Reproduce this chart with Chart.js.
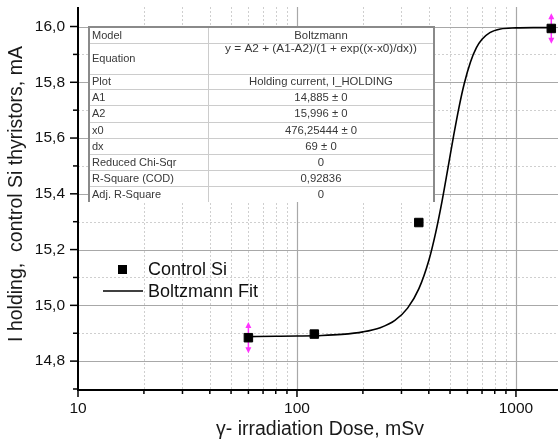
<!DOCTYPE html>
<html><head><meta charset="utf-8">
<script src="https://cdn.jsdelivr.net/npm/chart.js@4.4.0/dist/chart.umd.min.js"></script>
<style>html,body{margin:0;padding:0;background:#fff;overflow:hidden}canvas{display:block}</style>
</head><body>
<canvas id="c" width="558" height="447"></canvas>
<script>
// ---- data ----
const doseMSv   = [60, 120, 360, 1450];
const holdingMA = [14.884, 14.897, 15.297, 15.993];
const holdingErr = [0.056, 0, 0, 0.055];

const fitDose = [60, 80, 100, 130, 160, 200, 240, 280, 320, 360, 400, 430, 460, 490, 520, 550, 580, 620, 660, 700, 760, 850, 1000, 1200, 1450];
const fitMA   = [14.888, 14.889, 14.890, 14.892, 14.896, 14.905, 14.920, 14.946, 14.990, 15.059, 15.161, 15.261, 15.375, 15.496, 15.611, 15.712, 15.794, 15.873, 15.924, 15.954, 15.978, 15.991, 15.995, 15.996, 15.996];

const xTickValues = [10,20,30,40,50,60,70,80,90,100,200,300,400,500,600,700,800,900,1000];
const xTickLabels = ['10','100','1000'];
const yTickValues = [14.7,14.8,14.9,15.0,15.1,15.2,15.3,15.4,15.5,15.6,15.7,15.8,15.9,16.0];

const seriesLabels = ['Control Si', 'Boltzmann Fit'];
const xTitle = 'γ- irradiation Dose, mSv';
const yTitle = 'I holding,  control Si thyristors, mA';

const tableNames  = ['Model','Equation','Plot','A1','A2','x0','dx','Reduced Chi-Sqr','R-Square (COD)','Adj. R-Square'];
const tableValues = ['Boltzmann','y = A2 + (A1-A2)/(1 + exp((x-x0)/dx))','Holding current, I_HOLDING','14,885 ± 0','15,996 ± 0','476,25444 ± 0','69 ± 0','0','0,92836','0'];

const FONT = "'Liberation Sans', Arial, sans-serif";
const isMajorX = v => Math.abs(Math.log10(v) - Math.round(Math.log10(v))) < 1e-9;
const isMajorY = v => Math.round(v * 10) % 2 === 0;
const fmtY = v => (Math.round(v * 10) / 10).toFixed(1).replace('.', ',');

const decor = {
  id: 'decor',
  beforeDatasetsDraw(chart) {
    const {ctx, chartArea: a, scales: {x, y}} = chart;
    ctx.save();
    // grid
    xTickValues.forEach(v => {
      const px = Math.round(x.getPixelForValue(v)) + 0.5;
      if (px <= a.left + 1) return;
      ctx.beginPath();
      ctx.strokeStyle = isMajorX(v) ? '#a8a8a8' : '#cfcfcf';
      ctx.lineWidth = isMajorX(v) ? 1.2 : 1;
      ctx.setLineDash(isMajorX(v) ? [] : [2, 2]);
      ctx.moveTo(px, a.top); ctx.lineTo(px, a.bottom); ctx.stroke();
    });
    yTickValues.forEach(v => {
      const py = Math.round(y.getPixelForValue(v)) + 0.5;
      if (py >= a.bottom - 1) return;
      ctx.beginPath();
      ctx.strokeStyle = isMajorY(v) ? '#a8a8a8' : '#cfcfcf';
      ctx.lineWidth = isMajorY(v) ? 1.2 : 1;
      ctx.setLineDash(isMajorY(v) ? [] : [2, 2]);
      ctx.moveTo(a.left, py); ctx.lineTo(a.right, py); ctx.stroke();
    });
    ctx.setLineDash([]);

    // parameter table
    const tx0 = a.left + 11, tx1 = a.left + 130, tx2 = a.left + 356;
    const rowEdges = [27, 43, 74, 89, 105, 122, 138, 154, 170, 186, 202];
    ctx.fillStyle = '#fff';
    ctx.fillRect(tx0, rowEdges[0], tx2 - tx0, rowEdges[rowEdges.length - 1] - rowEdges[0]);
    ctx.strokeStyle = '#cccccc'; ctx.lineWidth = 1;
    for (let i = 1; i < rowEdges.length - 1; i++) {
      ctx.beginPath(); ctx.moveTo(tx0, rowEdges[i] + 0.5); ctx.lineTo(tx2, rowEdges[i] + 0.5); ctx.stroke();
    }
    ctx.beginPath(); ctx.moveTo(tx1 + 0.5, rowEdges[0]); ctx.lineTo(tx1 + 0.5, rowEdges[rowEdges.length - 1]); ctx.stroke();
    ctx.strokeStyle = '#8a8a8a'; ctx.lineWidth = 2;
    ctx.beginPath();
    ctx.moveTo(tx0, rowEdges[rowEdges.length - 1]); ctx.lineTo(tx0, rowEdges[0]);
    ctx.lineTo(tx2, rowEdges[0]); ctx.lineTo(tx2, rowEdges[rowEdges.length - 1]);
    ctx.stroke();
    ctx.fillStyle = '#383838'; ctx.textBaseline = 'middle';
    tableNames.forEach((n, i) => {
      const top = rowEdges[i], bot = rowEdges[i + 1];
      const mid = (top + bot) / 2 + 0.5;
      ctx.font = '11px ' + FONT;
      ctx.textAlign = 'left';
      ctx.fillText(n, tx0 + 3, mid);
      ctx.textAlign = 'center';
      ctx.font = (i === 1 ? '11.8px ' : '11.3px ') + FONT;
      ctx.fillText(tableValues[i], (tx1 + tx2) / 2, i === 1 ? top + 6 : mid);
    });

    // error bars
    ctx.strokeStyle = '#ff33ff'; ctx.fillStyle = '#ff33ff'; ctx.lineWidth = 1.5;
    doseMSv.forEach((d, i) => {
      if (!holdingErr[i]) return;
      const px = x.getPixelForValue(d);
      const pt = y.getPixelForValue(holdingMA[i] + holdingErr[i]);
      const pb = y.getPixelForValue(holdingMA[i] - holdingErr[i]);
      ctx.beginPath(); ctx.moveTo(px, pt + 3); ctx.lineTo(px, pb - 3); ctx.stroke();
      ctx.beginPath(); ctx.moveTo(px, pt); ctx.lineTo(px - 3, pt + 6); ctx.lineTo(px + 3, pt + 6); ctx.closePath(); ctx.fill();
      ctx.beginPath(); ctx.moveTo(px, pb); ctx.lineTo(px - 3, pb - 6); ctx.lineTo(px + 3, pb - 6); ctx.closePath(); ctx.fill();
    });
    ctx.restore();
  },
  afterDraw(chart) {
    const {ctx, chartArea: a, scales: {x, y}} = chart;
    ctx.save();
    // axes
    ctx.strokeStyle = '#000'; ctx.lineWidth = 2;
    ctx.beginPath(); ctx.moveTo(a.left, a.top); ctx.lineTo(a.left, a.bottom + 1); ctx.lineTo(a.right, a.bottom + 1); ctx.stroke();
    ctx.lineWidth = 1.5;
    ctx.fillStyle = '#111'; ctx.font = '15.5px ' + FONT;
    xTickValues.forEach(v => {
      const px = x.getPixelForValue(v);
      ctx.beginPath(); ctx.moveTo(px, a.bottom); ctx.lineTo(px, a.bottom + (isMajorX(v) ? 8 : 5)); ctx.stroke();
      const l = String(Math.round(v));
      if (xTickLabels.includes(l)) {
        ctx.textAlign = 'center'; ctx.textBaseline = 'middle';
        ctx.fillText(l, px, a.bottom + 20);
      }
    });
    yTickValues.forEach(v => {
      const py = y.getPixelForValue(v);
      ctx.beginPath(); ctx.moveTo(a.left, py); ctx.lineTo(a.left - (isMajorY(v) ? 8 : 5), py); ctx.stroke();
      if (isMajorY(v)) {
        ctx.textAlign = 'right'; ctx.textBaseline = 'middle';
        ctx.fillText(fmtY(v), a.left - 13, py);
      }
    });
    // axis titles
    ctx.fillStyle = '#1a1a1a'; ctx.font = '19.5px ' + FONT;
    ctx.textAlign = 'center'; ctx.textBaseline = 'middle';
    ctx.fillText(xTitle, 320, 430);
    ctx.save(); ctx.translate(17, 194); ctx.rotate(-Math.PI / 2); ctx.fillText(yTitle, 0, 0); ctx.restore();
    // legend
    ctx.fillStyle = '#000';
    ctx.fillRect(118, 265, 9, 9);
    ctx.lineWidth = 1.5;
    ctx.beginPath(); ctx.moveTo(103, 291); ctx.lineTo(143, 291); ctx.stroke();
    ctx.font = '18px ' + FONT; ctx.textAlign = 'left'; ctx.fillStyle = '#111';
    ctx.fillText(chart.data.datasets[0].label, 148, 270);
    ctx.fillText(chart.data.datasets[1].label, 148, 292);
    ctx.restore();
  }
};

new Chart(document.getElementById('c'), {
  data: {
    datasets: [
      {
        type: 'scatter', label: seriesLabels[0],
        data: doseMSv.map((d, i) => ({x: d, y: holdingMA[i]})),
        pointStyle: 'rect', pointRadius: 6, pointBackgroundColor: '#000', pointBorderColor: '#000', pointBorderWidth: 1,
        order: 0
      },
      {
        type: 'line', label: seriesLabels[1],
        data: fitDose.map((d, i) => ({x: d, y: fitMA[i]})),
        borderColor: '#000', borderWidth: 1.6, pointRadius: 0, fill: false,
        cubicInterpolationMode: 'monotone',
        order: 1
      }
    ]
  },
  options: {
    responsive: false, animation: false,
    layout: {autoPadding: false, padding: {top: 7, right: 0, left: 0, bottom: 0}},
    plugins: {legend: {display: false}, tooltip: {enabled: false}},
    scales: {
      x: {
        type: 'logarithmic', min: 10, max: 1556,
        afterBuildTicks: s => { s.ticks = xTickValues.map(v => ({value: v})); },
        afterFit: s => { s.height = 58; },
        grid: {display: false}, border: {display: false},
        ticks: {display: false}
      },
      y: {
        type: 'linear', min: 14.7, max: 16.07,
        afterBuildTicks: s => { s.ticks = yTickValues.map(v => ({value: v})); },
        afterFit: s => { s.width = 78; },
        grid: {display: false}, border: {display: false},
        ticks: {display: false}
      }
    }
  },
  plugins: [decor]
});
</script>
</body></html>
